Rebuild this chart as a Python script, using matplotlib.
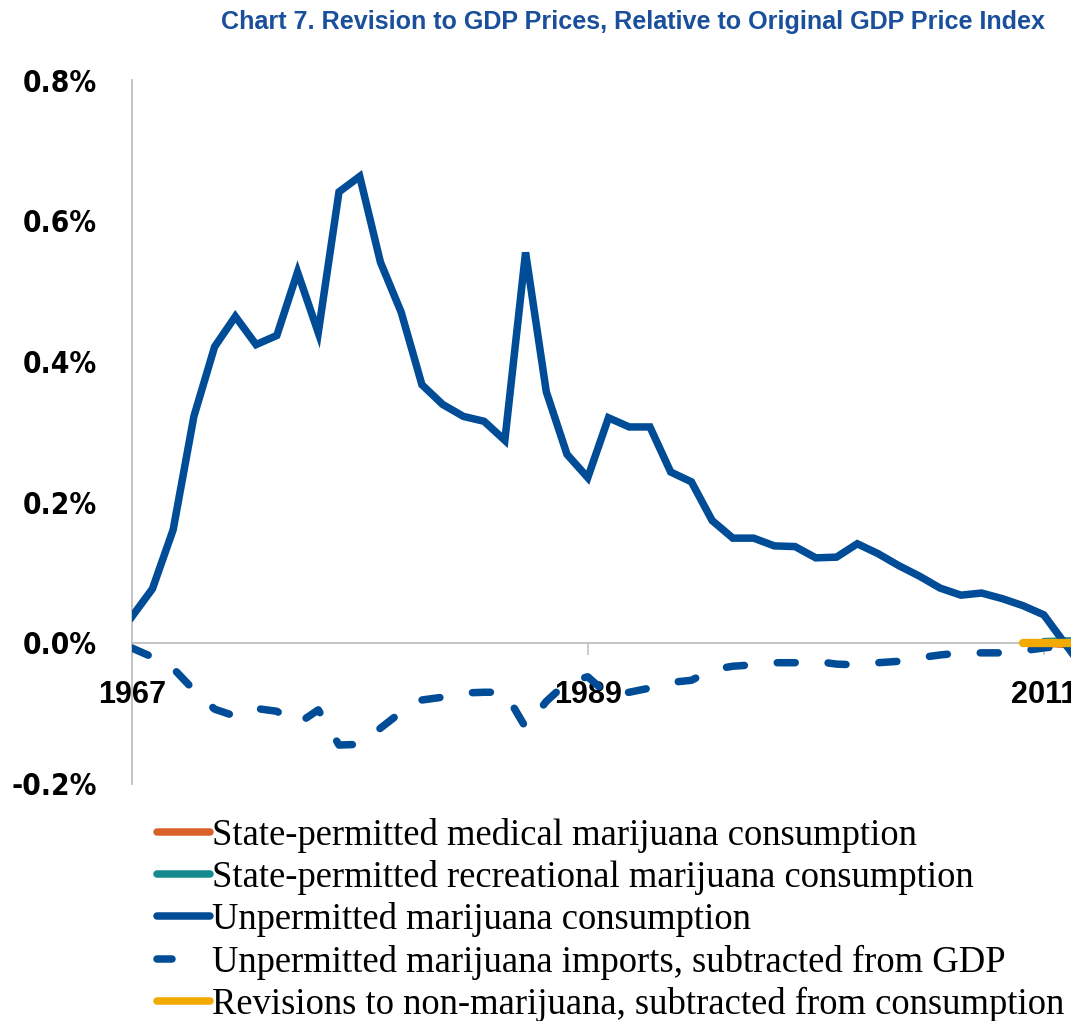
import matplotlib
matplotlib.use("Agg")
import matplotlib.pyplot as plt
from matplotlib.font_manager import FontProperties, findfont
from matplotlib.textpath import TextPath

# ---------------- data ----------------
years = list(range(1967, 2014))
unpermitted = [0.037, 0.077, 0.161, 0.322, 0.421, 0.464, 0.424, 0.437, 0.527, 0.441,
               0.641, 0.663, 0.541, 0.470, 0.367, 0.339, 0.322, 0.315, 0.288, 0.555,
               0.357, 0.268, 0.235, 0.320, 0.307, 0.307, 0.243, 0.229, 0.174, 0.149,
               0.149, 0.138, 0.137, 0.121, 0.122, 0.141, 0.127, 0.110, 0.095, 0.078,
               0.068, 0.071, 0.063, 0.053, 0.040, 0.000, -0.040]
imports = [-0.007, -0.020, -0.036, -0.067, -0.094, -0.104, -0.093, -0.097, -0.115, -0.095,
           -0.145, -0.144, -0.121, -0.098, -0.081, -0.077, -0.071, -0.070, -0.070, -0.120,
           -0.083, -0.056, -0.048, -0.074, -0.070, -0.064, -0.056, -0.053, -0.038, -0.033,
           -0.031, -0.028, -0.028, -0.026, -0.030, -0.031, -0.028, -0.026, -0.021, -0.017,
           -0.014, -0.014, -0.014, -0.011, -0.007, -0.004, -0.002]
medical_years = [2011, 2012, 2013]
medical = [0.000, -0.002, -0.003]
recreational_years = [2011, 2012, 2013]
recreational = [0.002, 0.003, 0.003]
revisions_years = [2010, 2011, 2012, 2013]
revisions = [0.000, 0.000, 0.000, 0.000]

labels = ["State-permitted medical marijuana consumption",
          "State-permitted recreational marijuana consumption",
          "Unpermitted marijuana consumption",
          "Unpermitted marijuana imports, subtracted from GDP",
          "Revisions to non-marijuana, subtracted from consumption"]
xtick_years = [1967, 1989, 2011]
yticks = [-0.2, 0.0, 0.2, 0.4, 0.6, 0.8]
title = "Chart 7. Revision to GDP Prices, Relative to Original GDP Price Index"

# ---------------- fonts ----------------
def pick(family, **kw):
    fp = FontProperties(family=family, **kw)
    try:
        findfont(fp, fallback_to_default=False)
        return fp
    except Exception:
        return None

narrow_bold = pick("Liberation Sans Narrow", weight="bold") or FontProperties(family="Liberation Sans", weight="bold")
ytick_fp = FontProperties(family="DejaVu Sans", weight="bold", stretch="condensed")
serif_fp = FontProperties(family="Liberation Serif")

DPI = 100
def fit(s, fp, target_px):
    w = TextPath((0, 0), s, size=100, prop=fp).get_extents().width
    return target_px * 72.0 / DPI * 100.0 / w

title_fs = fit(title, narrow_bold, 823)
xt_fs = fit("1967", narrow_bold, 65)
yt_fs = fit("0.8%", ytick_fp, 72)
leg_fs = fit(labels[0], serif_fp, 703)

# ---------------- figure ----------------
W, H = 1071, 1021
fig = plt.figure(figsize=(W / DPI, H / DPI), dpi=DPI)
x0 = 131.7
ax = fig.add_axes([x0 / W, 1 - 783.75 / H, (W - x0) / W, (783.75 - 80) / H])
ax.set_xlim(1967, 1967 + (W - x0) / 20.73)
ax.set_ylim(-0.2, 0.8)

blue = "#004C97"
LW = 5.4
l_med, = ax.plot(medical_years, medical, color="#D9622B", lw=LW, solid_capstyle="round", zorder=3)
l_rec, = ax.plot(recreational_years, recreational, color="#168A8E", lw=LW, solid_capstyle="round", zorder=3)
l_unp, = ax.plot(years, unpermitted, color=blue, lw=LW, solid_joinstyle="miter", zorder=3)
l_imp, = ax.plot(years, imports, color=blue, lw=LW, dash_capstyle="round", zorder=3)
l_imp.set_dashes((2.4, 4.4))
l_rev, = ax.plot(revisions_years, revisions, color="#F2A900", lw=6.0, solid_capstyle="round", zorder=4)

for s in ["top", "right"]:
    ax.spines[s].set_visible(False)
ax.spines["bottom"].set_position(("data", 0))
for s in ["bottom", "left"]:
    ax.spines[s].set_color("#BFBFBF")
    ax.spines[s].set_linewidth(1.3)
    ax.spines[s].set_zorder(1)

ax.set_xticks(xtick_years)
ax.set_xticklabels([str(y) for y in xtick_years])
ax.tick_params(axis="x", direction="out", length=8.5, width=1.1, color="#BFBFBF", pad=18)
for t in ax.get_xticklabels():
    t.set_fontproperties(narrow_bold)
    t.set_fontsize(xt_fs)
    t.set_color("black")

ax.set_yticks(yticks)
ax.set_yticklabels([f"{v:.1f}%" for v in yticks])
ax.tick_params(axis="y", length=0, pad=25)
for t in ax.get_yticklabels():
    t.set_fontproperties(ytick_fp)
    t.set_fontsize(yt_fs)
    t.set_color("black")

fig.text(1045 / W, 1 - 22 / H, title, fontproperties=narrow_bold, fontsize=title_fs,
         color="#1A4F9B", ha="right", va="center")

leg_px = leg_fs * DPI / 72
handles = [l_med, l_rec, l_unp, l_imp, l_rev]
leg = ax.legend(handles, labels, loc="upper left",
                bbox_to_anchor=(157 / W, 1 - 818 / H), bbox_transform=fig.transFigure,
                frameon=False, borderpad=0, borderaxespad=0,
                handlelength=53 / leg_px, handletextpad=0.06, labelspacing=0.195,
                prop=FontProperties(family="Liberation Serif", size=leg_fs))
for ln in leg.get_lines():
    ln.set_linewidth(LW)
    ln.set_solid_capstyle("round")
leg.get_lines()[3].set_dashes((2.0, 20.0))

fig.savefig("out.png", dpi=DPI)
